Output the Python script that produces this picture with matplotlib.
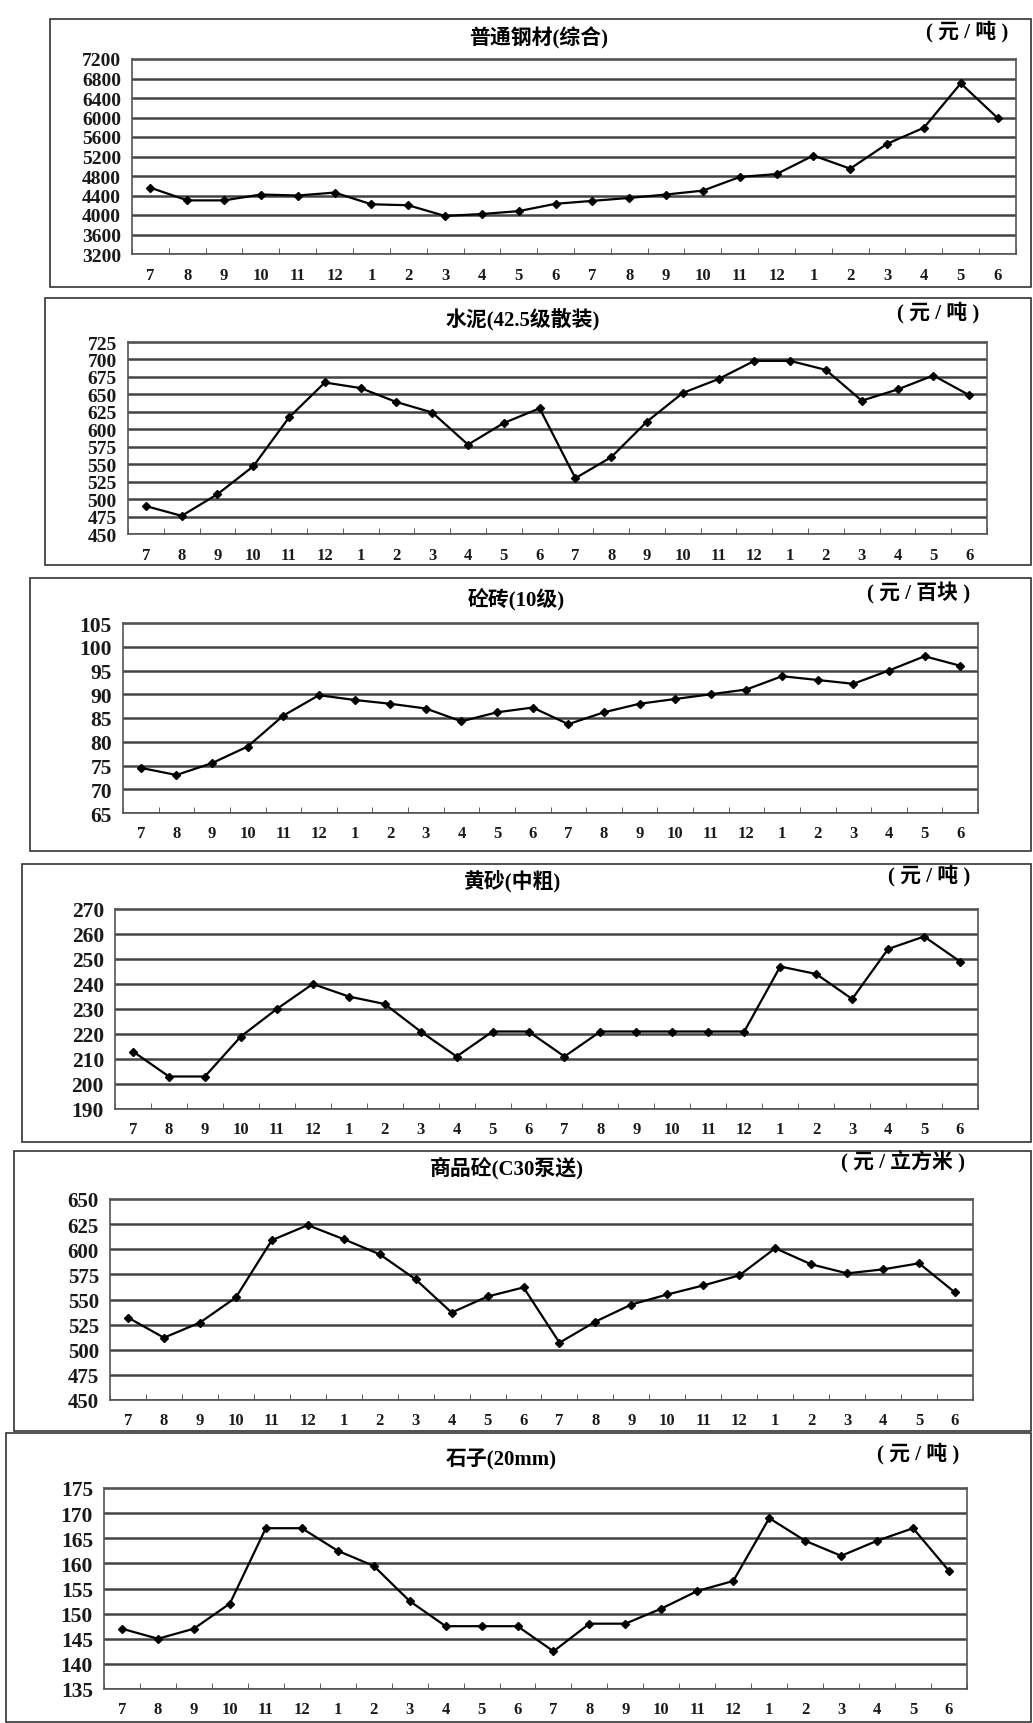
import matplotlib
matplotlib.use("Agg")
import matplotlib.pyplot as plt
from matplotlib.patches import Rectangle

plt.rcParams['font.family'] = ['Liberation Serif', 'Noto Sans CJK SC', 'DejaVu Sans']

months = ["7", "8", "9", "10", "11", "12", "1", "2", "3", "4", "5", "6",
          "7", "8", "9", "10", "11", "12", "1", "2", "3", "4", "5", "6"]

titles = ["普通钢材(综合)", "水泥(42.5级散装)", "砼砖(10级)",
          "黄砂(中粗)", "商品砼(C30泵送)", "石子(20mm)"]
units = ["( 元 / 吨 )", "( 元 / 吨 )", "( 元 / 百块 )",
         "( 元 / 吨 )", "( 元 / 立方米 )", "( 元 / 吨 )"]

steel = [4560, 4300, 4300, 4420, 4400, 4460, 4220, 4200, 3980, 4020, 4080, 4230,
         4290, 4350, 4420, 4500, 4780, 4840, 5220, 4950, 5460, 5790, 6700, 5990]
cement = [490, 476, 507, 547, 617, 667, 659, 639, 624, 578, 609, 630,
          530, 560, 611, 652, 672, 698, 698, 685, 641, 657, 677, 649]
brick = [74.5, 73, 75.5, 79, 85.5, 89.8, 88.8, 88, 87, 84.3, 86.2, 87.2,
         83.7, 86.2, 88, 89, 90, 91, 93.8, 93, 92.2, 95, 98, 96]
sand = [213, 203, 203, 219, 230, 240, 235, 232, 221, 211, 221, 221,
        211, 221, 221, 221, 221, 221, 247, 244, 234, 254, 259, 249]
concrete = [532, 512, 527, 552, 609, 624, 610, 595, 570, 537, 553, 562,
            507, 528, 545, 555, 564, 574, 601, 585, 576, 580, 586, 557]
stone = [147, 145, 147, 152, 167, 167, 162.5, 159.5, 152.5, 147.5, 147.5, 147.5,
         142.5, 148, 148, 151, 154.5, 156.5, 169, 164.5, 161.5, 164.5, 167, 158.5]

series = [steel, cement, brick, sand, concrete, stone]
yranges = [(3200, 7200, 400), (450, 725, 25), (65, 105, 5),
           (190, 270, 10), (450, 650, 25), (135, 175, 5)]
ysizes = [14, 14, 15.5, 15.5, 15, 15.5]

W, H = 1033, 1724
# pixel geometry: box left, box top, box bottom, plot left, plot right, plot top, plot bottom, title y
geo = [(50, 20, 288, 132, 1016, 60, 255, 38),
       (45, 299, 566, 128, 987, 343, 535, 319),
       (30, 579, 852, 123, 978, 624, 814, 599),
       (22, 865, 1143, 115, 978, 910, 1110, 882),
       (14, 1152, 1432, 110, 973, 1200, 1401, 1168),
       (6, 1434, 1723, 104, 967, 1489, 1690, 1460)]

fig = plt.figure(figsize=(W / 100, H / 100), dpi=100)

for i in range(6):
    bl, bt, bb, pl, pr, pt, pb, ty = geo[i]
    fig.patches.append(Rectangle((bl / W, 1 - bb / H), (W - 2 - bl) / W, (bb - bt) / H,
                                 transform=fig.transFigure, fill=False,
                                 edgecolor='#333333', linewidth=1.2))
    ax = fig.add_axes([pl / W, 1 - pb / H, (pr - pl) / W, (pb - pt) / H])
    lo, hi, st = yranges[i]
    ax.plot(range(24), series[i], color='black', linewidth=1.6,
            marker='D', markersize=4, zorder=3)
    ax.set_xlim(-0.5, 23.5)
    ax.set_ylim(lo, hi)
    ax.set_yticks(range(lo, hi + 1, st))
    ax.set_xticks(range(24))
    ax.set_xticklabels(months)
    ax.set_xticks([k - 0.5 for k in range(25)], minor=True)
    ax.tick_params(axis='x', which='major', length=0, pad=9, labelsize=12)
    ax.tick_params(axis='x', which='minor', length=4, direction='in', color='#444444')
    ax.tick_params(axis='y', length=0, pad=8, labelsize=ysizes[i])
    for lab in ax.get_xticklabels() + ax.get_yticklabels():
        lab.set_fontweight('bold')
        lab.set_color('#1a1a1a')
    ax.grid(axis='y', color='#444444', linewidth=1.8)
    ax.set_axisbelow(True)
    for sp in ax.spines.values():
        sp.set_color('#555555')
        sp.set_linewidth(1.2)
    fig.text((pl + 0.46 * (pr - pl)) / W, 1 - ty / H, titles[i],
             ha='center', va='center', fontsize=15, fontweight='bold',
             family=['Liberation Serif', 'Noto Sans CJK SC'])
    fig.text((pr - 8) / W, 1 - (ty - 6) / H, units[i],
             ha='right', va='center', fontsize=15, fontweight='bold',
             family=['Liberation Serif', 'Noto Sans CJK SC'])

fig.savefig("out.png", dpi=100)
